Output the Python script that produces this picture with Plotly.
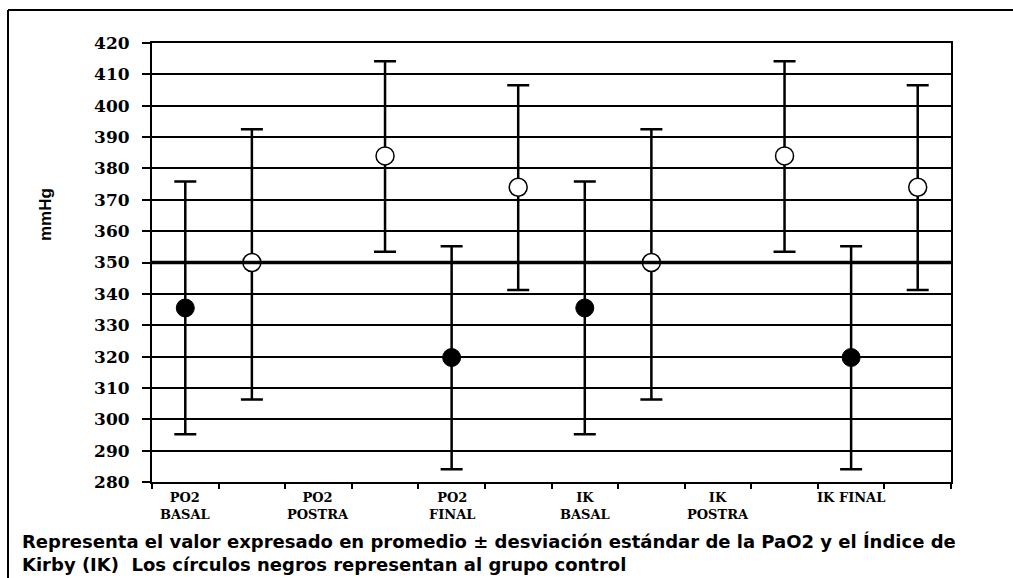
import plotly.graph_objects as go

# ---------------- data ----------------
slot_labels = ["PO2<br>BASAL", "", "PO2<br>POSTRA", "", "PO2<br>FINAL", "",
               "IK<br>BASAL", "", "IK<br>POSTRA", "", "IK FINAL", ""]

control_x = [0, 4, 6, 10]
control_mean = [335.5, 319.7, 335.5, 319.7]
control_upper = [375.8, 355.2, 375.8, 355.2]
control_lower = [295.2, 284.1, 295.2, 284.1]

study_x = [1, 3, 5, 7, 9, 11]
study_mean = [350.0, 384.0, 374.0, 350.0, 384.0, 374.0]
study_upper = [392.5, 414.2, 406.5, 392.5, 414.2, 406.5]
study_lower = [306.3, 353.4, 341.2, 306.3, 353.4, 341.2]

y_ticks = list(range(280, 421, 10))

caption_lines = [
    "Representa el valor expresado en promedio ± desviación estándar de la PaO2 y el Índice de",
    "Kirby (IK)  Los círculos negros representan al grupo control",
]

# ---------------- geometry ----------------
W, H = 1013, 578
L, R, T, B = 152, 62, 43, 96
PW, PH = W - L - R, H - T - B


def px(xp):
    return (xp - L) / PW


def py(yp):
    return (H - B - yp) / PH


fig = go.Figure()

fig.add_trace(go.Scatter(
    x=control_x, y=control_mean, mode="markers",
    marker=dict(symbol="circle", size=18, color="black",
                line=dict(color="black", width=1)),
    error_y=dict(type="data", symmetric=False,
                 array=[u - m for u, m in zip(control_upper, control_mean)],
                 arrayminus=[m - l for m, l in zip(control_mean, control_lower)],
                 color="black", thickness=2.5, width=11),
    showlegend=False, cliponaxis=False,
))

fig.add_trace(go.Scatter(
    x=study_x, y=study_mean, mode="markers",
    marker=dict(symbol="circle", size=18, color="white",
                line=dict(color="black", width=1.5)),
    error_y=dict(type="data", symmetric=False,
                 array=[u - m for u, m in zip(study_upper, study_mean)],
                 arrayminus=[m - l for m, l in zip(study_mean, study_lower)],
                 color="black", thickness=2.5, width=11),
    showlegend=False, cliponaxis=False,
))

n = len(slot_labels)
fig.update_xaxes(
    range=[-0.5, n - 0.5],
    tickmode="array",
    tickvals=[i - 0.5 for i in range(n + 1)],
    ticktext=["" for _ in range(n + 1)],
    ticks="outside", ticklen=5, tickwidth=2, tickcolor="black",
    showgrid=False, zeroline=False,
    showline=True, linewidth=2, linecolor="black", mirror=True,
)

fig.update_yaxes(
    range=[280, 420],
    tickmode="array", tickvals=y_ticks, ticktext=[str(v) for v in y_ticks],
    ticks="outside", ticklen=8, tickwidth=2, tickcolor="black",
    showgrid=True, gridcolor="black", gridwidth=2,
    zeroline=False,
    showline=True, linewidth=2, linecolor="black", mirror=True,
    tickfont=dict(family="DejaVu Serif", size=17, color="black", weight="bold"),
    ticklabelstandoff=9,
)

# thicker reference line at 350
fig.add_shape(type="line", xref="paper", yref="y", x0=0, x1=1, y0=350, y1=350,
              line=dict(color="black", width=3.5), layer="above")

annotations = []
for i, lab in enumerate(slot_labels):
    if lab:
        annotations.append(dict(
            x=i, xref="x", y=py(488), yref="paper", yanchor="top", xanchor="center",
            text="<b>" + lab + "</b>", showarrow=False,
            font=dict(family="DejaVu Serif", size=13, color="black"),
        ))

annotations.append(dict(
    x=px(45), y=py(215), xref="paper", yref="paper", text="<b>mmHg</b>",
    textangle=-90, showarrow=False, xanchor="center", yanchor="middle",
    font=dict(family="Liberation Sans", size=17, color="black"),
))

annotations.append(dict(
    x=px(20), y=py(553), xref="paper", yref="paper",
    text="<br>".join(caption_lines),
    showarrow=False, xanchor="left", yanchor="middle", align="left",
    font=dict(family="DejaVu Sans", size=18, color="black", weight="bold"),
))

# outer frame (left and top edges)
fig.add_shape(type="line", xref="paper", yref="paper",
              x0=px(8), x1=px(8), y0=py(10), y1=py(590),
              line=dict(color="black", width=2))
fig.add_shape(type="line", xref="paper", yref="paper",
              x0=px(8), x1=px(1020), y0=py(10), y1=py(10),
              line=dict(color="black", width=2))

fig.update_layout(
    width=W, height=H,
    margin=dict(l=L, r=R, t=T, b=B),
    paper_bgcolor="white", plot_bgcolor="white",
    annotations=annotations,
    font=dict(color="black"),
)

fig.write_html("out.html")
